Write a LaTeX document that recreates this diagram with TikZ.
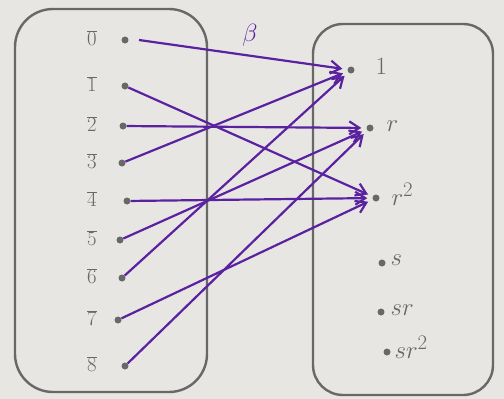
\documentclass[tikz,border=0pt]{standalone}
\usetikzlibrary{arrows.meta}
\definecolor{paper}{HTML}{E8E6E3}
\definecolor{pencil}{HTML}{686868}
\definecolor{ink}{HTML}{5A22A0}
\tikzset{
  setbox/.style={draw=pencil, line width=2.4pt, rounded corners=38pt},
  pt/.style={circle, fill=pencil, inner sep=0pt, minimum size=7pt},
  llab/.style={text=pencil, font=\fontsize{21}{21}\selectfont},
  rlab/.style={text=pencil, font=\fontsize{30}{30}\selectfont, anchor=west},
  maparrow/.style={draw=ink, line width=2.2pt, -{Straight Barb[length=10pt,width=13pt]}, shorten >=5pt}
}
\begin{document}
\begin{tikzpicture}[x=1pt,y=-1pt]
\fill[paper] (0,0) rectangle (504,399);
\useasboundingbox (0,0) rectangle (504,399);
% boxes
\draw[setbox] (15,9) rectangle (207,392);
\draw[setbox, rounded corners=30pt] (313,24) rectangle (493,395);
% left points
\foreach \i/\x/\y in {0/125/40,1/125/86,2/123/126,3/122/163,4/127/201,5/120/240,6/122/278,7/118/320,8/125/366}{
  \node[pt] (a\i) at (\x,\y) {};
  \node[llab] (la\i) at (92,\y-2) {$\overline{\i}$};
}
% right points
\node[pt] (e) at (351,70) {};
\node[pt] (r) at (370,128) {};
\node[pt] (rr) at (376,198) {};
\node[pt] (s) at (382,263) {};
\node[pt] (sr) at (381,312) {};
\node[pt] (srr) at (387,352) {};
\node[rlab] (le) at (372,66) {$1$};
\node[rlab] (lr) at (383,126) {$r$};
\node[rlab] (lrr) at (388,194) {$r^2$};
\node[rlab] (ls) at (387,260) {$s$};
\node[rlab] (lsr) at (387,310) {$sr$};
\node[rlab] (lsrr) at (391,347) {$sr^2$};
\node[text=ink, font=\fontsize{26}{26}\selectfont] (beta) at (250,35) {$\beta$};
% arrows
\draw[maparrow] ([xshift=14pt]a0.center) -- (e);
\draw[maparrow] (a1) -- (rr);
\draw[maparrow] (a2) -- (r);
\draw[maparrow] (a3) -- (e);
\draw[maparrow] (a4) -- (rr);
\draw[maparrow] (a5) -- (r);
\draw[maparrow] (a6) -- (e);
\draw[maparrow] (a7) -- (rr);
\draw[maparrow] (a8) -- (r);
\end{tikzpicture}
\end{document}
